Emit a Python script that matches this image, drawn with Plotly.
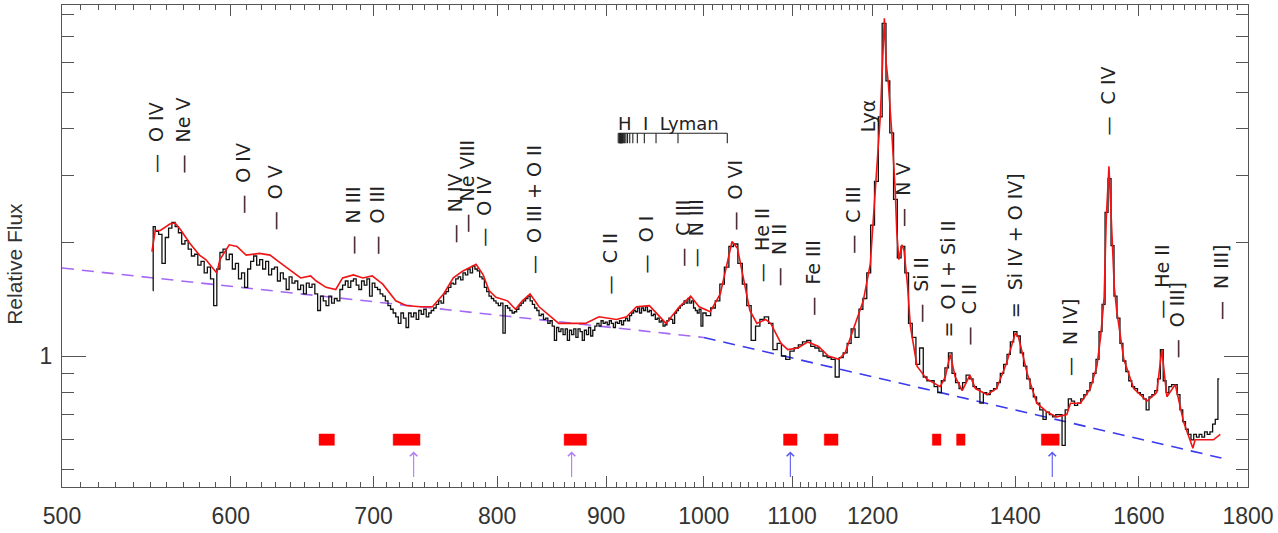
import numpy as np
import plotly.graph_objects as go

# ---------------- data ----------------
# Binned composite spectrum, 552-998 A (2 A bins)
wave_fuv = list(range(552, 1000, 2))
flux_fuv = [
    2.20, 2.14, 2.10, 1.76, 2.06, 2.18, 2.26, 2.20, 2.12, 1.98,
    2.02, 1.92, 1.84, 1.86, 1.74, 1.78, 1.66, 1.72, 1.60, 1.36,
    1.70, 1.88, 1.92, 1.80, 1.86, 1.70, 1.76, 1.60, 1.66, 1.52,
    1.70, 1.78, 1.84, 1.74, 1.80, 1.70, 1.78, 1.64, 1.70, 1.72,
    1.58, 1.66, 1.60, 1.50, 1.62, 1.56, 1.58, 1.50, 1.54, 1.46,
    1.56, 1.52, 1.55, 1.46, 1.32, 1.44, 1.40, 1.36, 1.44, 1.38,
    1.42, 1.40, 1.50, 1.54, 1.58, 1.52, 1.58, 1.60, 1.54, 1.50,
    1.58, 1.54, 1.60, 1.44, 1.56, 1.52, 1.50, 1.46, 1.44, 1.40,
    1.36, 1.33, 1.30, 1.27, 1.22, 1.30, 1.26, 1.19, 1.30, 1.27,
    1.30, 1.25, 1.32, 1.29, 1.33, 1.27, 1.30, 1.32, 1.34, 1.37,
    1.40, 1.38, 1.46, 1.48, 1.52, 1.56, 1.55, 1.60, 1.62, 1.59,
    1.66, 1.64, 1.70, 1.66, 1.73, 1.70, 1.68, 1.62, 1.60, 1.52,
    1.48, 1.44, 1.42, 1.40, 1.38, 1.36, 1.38, 1.15, 1.36, 1.34,
    1.32, 1.30, 1.31, 1.33, 1.36, 1.38, 1.40, 1.42, 1.44, 1.40,
    1.37, 1.34, 1.32, 1.28, 1.29, 1.25, 1.26, 1.22, 1.24, 1.20,
    1.10, 1.19, 1.16, 1.18, 1.14, 1.18, 1.10, 1.17, 1.14, 1.18,
    1.12, 1.18, 1.16, 1.10, 1.17, 1.14, 1.19, 1.13, 1.17, 1.20,
    1.22, 1.20, 1.24, 1.22, 1.23, 1.21, 1.24, 1.22, 1.19, 1.23,
    1.22, 1.24, 1.21, 1.24, 1.26, 1.24, 1.28, 1.30, 1.32, 1.31,
    1.34, 1.30, 1.34, 1.32, 1.35, 1.31, 1.32, 1.28, 1.29, 1.25,
    1.26, 1.23, 1.24, 1.20, 1.21, 1.24, 1.26, 1.25, 1.22, 1.30,
    1.32, 1.34, 1.36, 1.37, 1.40, 1.38, 1.42, 1.38, 1.40, 1.34,
    1.32, 1.30, 1.33, 1.20,
]
# blue edge of the first bin
edge_wave = [551.5]
edge_flux = [1.49]

# Binned composite spectrum, 1000-1745 A (5 A bins)
wave_nuv = list(range(1000, 1750, 5))
flux_nuv = [
    1.30, 1.28, 1.34, 1.40, 1.55, 1.72, 1.95, 1.98, 1.76, 1.55,
    1.36, 1.10, 1.20, 1.25, 1.27, 1.22, 1.04, 1.08, 1.00, 0.98,
    1.03, 1.05, 1.07, 1.09, 1.10, 1.06, 1.05, 1.03, 1.00, 0.99,
    0.98, 0.88, 0.99, 1.02, 1.08, 1.18, 1.12, 1.33, 1.42, 1.66,
    2.22, 2.90, 4.30, 7.60, 5.35, 3.90, 2.60, 1.82, 1.95, 1.66,
    1.22, 1.12, 0.95, 1.05, 0.88, 0.86, 0.86, 0.83, 0.80, 0.86,
    0.93, 1.02, 0.90, 0.85, 0.82, 0.85, 0.89, 0.87, 0.83, 0.82,
    0.75, 0.80, 0.79, 0.81, 0.82, 0.85, 0.90, 0.95, 1.01, 1.09,
    1.16, 1.13, 1.02, 0.94, 0.87, 0.82, 0.78, 0.75, 0.72, 0.68,
    0.71, 0.70, 0.69, 0.70, 0.70, 0.58, 0.72, 0.77, 0.76, 0.74,
    0.75, 0.77, 0.79, 0.81, 0.85, 0.90, 0.98, 1.16, 1.37, 2.40,
    2.95, 1.96, 1.44, 1.26, 1.08, 0.97, 0.91, 0.86, 0.83, 0.82,
    0.80, 0.79, 0.77, 0.72, 0.78, 0.79, 0.81, 0.87, 1.04, 0.86,
    0.80, 0.83, 0.84, 0.84, 0.79, 0.72, 0.67, 0.64, 0.62, 0.60,
    0.62, 0.61, 0.62, 0.61, 0.63, 0.62, 0.63, 0.66, 0.68, 0.87,
]

# Smooth emission-line model
model_wave = [
    551, 553, 556, 562, 565, 568, 574, 580, 584, 591, 593, 599, 604, 610,
    619, 626, 630, 641, 647, 654, 658, 665, 672, 677, 685, 692, 699, 707,
    717, 725, 736, 746, 755, 763, 771, 782, 788, 793, 799, 809, 816, 822,
    829, 837, 846, 855, 868, 880, 893, 910, 920, 930, 943, 960, 974, 986,
    995, 1007, 1018, 1025, 1031, 1037, 1044, 1051, 1059, 1069, 1075, 1087,
    1095, 1107, 1119, 1132, 1144, 1157, 1165, 1178, 1188, 1197, 1202, 1206,
    1210, 1212.4, 1215.4, 1217.6, 1220.7, 1225.2, 1229.6, 1231.8, 1234.5,
    1238.5, 1241.5, 1246, 1250, 1259, 1272, 1291, 1298, 1305, 1312, 1322,
    1333, 1341, 1358, 1372, 1387, 1400, 1405, 1418, 1433, 1449, 1464, 1480,
    1486, 1502, 1518, 1529, 1535, 1541, 1544.5, 1549, 1553, 1558, 1562,
    1574, 1591, 1614, 1631, 1640, 1649, 1664, 1679, 1691, 1696, 1700, 1710,
    1734, 1747,
]
model_flux = [
    1.89, 2.15, 2.15, 2.24, 2.25, 2.17, 1.99, 1.85, 1.80, 1.66, 1.80, 1.97, 1.95, 1.85,
    1.87, 1.85, 1.80, 1.68, 1.61, 1.63, 1.58, 1.52, 1.50, 1.61, 1.64, 1.61, 1.63, 1.55,
    1.40, 1.36, 1.35, 1.35, 1.46, 1.61, 1.68, 1.75, 1.64, 1.49, 1.43, 1.40, 1.33, 1.40,
    1.46, 1.35, 1.28, 1.22, 1.22, 1.22, 1.27, 1.25, 1.27, 1.35, 1.36, 1.22, 1.35, 1.44,
    1.35, 1.31, 1.46, 1.75, 2.01, 1.93, 1.61, 1.32, 1.22, 1.25, 1.22, 1.08,
    1.04, 1.05, 1.09, 1.06, 1.00, 0.98, 1.02, 1.22, 1.40, 1.75, 2.45, 3.10,
    4.30, 5.60, 7.84, 6.00, 5.25, 3.89, 2.77, 2.13, 1.80,
    1.97, 1.90, 1.55, 1.20, 0.94, 0.87, 0.83, 0.88, 1.01, 0.88, 0.81,
    0.89, 0.82, 0.79, 0.82, 0.96, 1.15, 1.12, 0.90, 0.75, 0.71, 0.69, 0.70,
    0.75, 0.75, 0.82, 0.94, 1.12, 1.43, 2.31, 3.18, 2.31, 1.52, 1.32,
    0.98, 0.82, 0.76, 0.80, 1.04, 0.78, 0.84, 0.67, 0.60, 0.57, 0.60, 0.60,
    0.60, 0.62,
]

# Broken power-law continuum (break at 1000 A)
cont_wave_short = [500, 1000]
cont_flux_short = [1.71, 1.12]
cont_wave_long = [1000, 1749]
cont_flux_long = [1.12, 0.537]

# Continuum windows
win_start = [660, 715, 860, 1090, 1139, 1280, 1314, 1440]
win_end = [671, 736, 881, 1106, 1156, 1292, 1326, 1468]
win_level = 0.60

# Arrow markers
arrow_wave_short = [731, 867]
arrow_wave_long = [1098, 1457]
arrow_tip = 0.559

# H I Lyman series (Ly-beta onwards) and series limit
lyman_wave = [1025.72, 972.54, 949.74, 937.80, 930.75, 926.23, 923.15,
              920.96, 919.35, 918.13, 917.18, 916.43, 915.82, 915.33,
              914.92, 914.58, 914.29, 914.04, 913.64, 913.21, 912.77, 911.75]
lyman_top = 3.89
lyman_bottom = 3.66

# Emission-line identifications
label_text = ["O IV", "Ne V", "O IV", "O V", "N III", "O III", "N IV", "Ne VIII",
              "O IV", "O III + O II", "C II", "O I", "C III", "N III", "O VI",
              "He II", "N II", "Fe III", "C III", "N V", "Si II", "O I + Si II",
              "C II", "Si IV + O IV]", "N IV]", "C IV", "He II", "O III]", "N III]"]
label_mark = ["—"] * 21 + ["="] + ["—"] + ["="] + ["—"] * 5
label_wave = [553, 570, 608, 629, 685, 702, 764, 774, 788, 833, 904, 939, 977,
              992, 1034, 1065, 1085, 1125, 1175, 1241, 1265, 1302, 1333, 1400,
              1486, 1548, 1641, 1667, 1747]
label_base = [3.03, 3.03, 2.36, 2.14, 1.85, 1.84, 1.97, 2.11, 1.93, 1.64, 1.45,
              1.64, 1.71, 1.71, 2.14, 1.56, 1.52, 1.27, 1.85, 2.18, 1.22, 1.11,
              1.06, 1.25, 0.88, 3.81, 1.25, 0.98, 1.24]
lya_wave, lya_base = 1194, 3.90

x_major = [500, 600, 700, 800, 900, 1000, 1100, 1200, 1400, 1600, 1800]
y_minor = [0.5, 0.6, 0.7, 0.8, 0.9, 2, 3, 4, 5, 6, 7, 8]

# ---------------- figure ----------------
FRAME = "#555555"
INK = "#222222"
LABEL_FONT = dict(family="DejaVu Sans", size=19, color=INK)

fig = go.Figure()

# continuum
fig.add_trace(go.Scatter(x=cont_wave_short, y=cont_flux_short, mode="lines",
                         line=dict(color="#a468f4", width=1.6, dash="12px,8px"),
                         hoverinfo="skip"))
fig.add_trace(go.Scatter(x=cont_wave_long, y=cont_flux_long, mode="lines",
                         line=dict(color="#3a3aee", width=1.6, dash="12px,8px"),
                         hoverinfo="skip"))

# binned spectrum
fig.add_trace(go.Scatter(x=edge_wave + wave_fuv + wave_nuv,
                         y=edge_flux + flux_fuv + flux_nuv, mode="lines",
                         line=dict(color="#111111", width=1.3, shape="hvh")))

# model
fig.add_trace(go.Scatter(x=model_wave, y=model_flux, mode="lines",
                         line=dict(color="#f01414", width=1.6)))

# continuum windows as filled boxes
bx, by = [], []
lo, hi = win_level * 0.967, win_level * 1.036
for a, b in zip(win_start, win_end):
    bx += [a, b, b, a, a, None]
    by += [lo, lo, hi, hi, lo, None]
fig.add_trace(go.Scatter(x=bx, y=by, mode="lines", fill="toself",
                         fillcolor="#ff0000", line=dict(color="#ff0000", width=0.5)))

# Lyman series bracket
lx, ly = [min(lyman_wave), max(lyman_wave), None], [lyman_top, lyman_top, None]
for w in lyman_wave:
    lx += [w, w, None]
    ly += [lyman_top, lyman_bottom, None]
fig.add_trace(go.Scatter(x=lx, y=ly, mode="lines",
                         line=dict(color="#222222", width=1.1)))

annotations = []
for mark, txt, w, f in zip(label_mark, label_text, label_wave, label_base):
    annotations.append(dict(
        x=np.log10(w), y=np.log10(f), xref="x", yref="y",
        text=f"{mark}\u00a0\u00a0{txt}", textangle=-90, showarrow=False,
        xanchor="center", yanchor="bottom", font=LABEL_FONT, borderpad=0))
annotations.append(dict(
    x=np.log10(lya_wave), y=np.log10(lya_base), xref="x", yref="y",
    text="Lyα", textangle=-90, showarrow=False, xanchor="center",
    yanchor="bottom", font=LABEL_FONT, borderpad=0))
annotations.append(dict(
    x=np.log10(min(lyman_wave)), y=np.log10(lyman_top), xref="x", yref="y",
    text="H\u00a0\u00a0I\u00a0\u00a0Lyman", showarrow=False, xanchor="left",
    yanchor="bottom", font=dict(family="DejaVu Sans", size=18, color=INK),
    borderpad=0, xshift=-1, yshift=-2))

for waves, col in ((arrow_wave_short, "#b27af4"), (arrow_wave_long, "#5b5bf0")):
    for w in waves:
        annotations.append(dict(
            x=np.log10(w), y=np.log10(arrow_tip), xref="x", yref="y",
            text="", showarrow=True, ax=0, ay=27, arrowhead=4,
            arrowsize=1.3, arrowwidth=1.1, arrowcolor=col))

annotations.append(dict(
    x=-0.0407, y=0.4625, xref="paper", yref="paper", text="Relative Flux",
    textangle=-90, showarrow=False, xanchor="center", yanchor="middle",
    font=dict(family="Liberation Sans, Arial, sans-serif", size=21, color="#333333")))

x_minor = [v for v in range(510, 1200, 10) if v % 100 != 0] + \
          [v for v in range(1220, 1800, 20) if v not in (1400, 1600)]

fig.update_layout(
    width=1278, height=533,
    margin=dict(l=62, r=30, t=4, b=41),
    paper_bgcolor="white", plot_bgcolor="white",
    showlegend=False,
    annotations=annotations,
    xaxis=dict(
        type="log", range=[np.log10(500), np.log10(1800)],
        tickmode="array", tickvals=x_major, ticktext=[str(v) for v in x_major],
        ticks="inside", ticklen=11, tickwidth=1.2, tickcolor=FRAME,
        showline=True, linecolor=FRAME, linewidth=1.4, mirror="ticks",
        showgrid=False, zeroline=False,
        minor=dict(tickmode="array", tickvals=x_minor, ticks="inside",
                   ticklen=5, tickwidth=1, tickcolor=FRAME, showgrid=False),
        tickfont=dict(family="Liberation Sans, Arial, sans-serif", size=23,
                      color="#333333"),
        ticklabelstandoff=8,
    ),
    yaxis=dict(
        type="log", range=[np.log10(0.45), np.log10(8.5)],
        tickmode="array", tickvals=[1], ticktext=["1"],
        ticks="inside", ticklen=24, tickwidth=1.2, tickcolor=FRAME,
        showline=True, linecolor=FRAME, linewidth=1.4, mirror="ticks",
        showgrid=False, zeroline=False,
        minor=dict(tickmode="array", tickvals=y_minor, ticks="inside",
                   ticklen=12, tickwidth=1, tickcolor=FRAME, showgrid=False),
        tickfont=dict(family="Liberation Sans, Arial, sans-serif", size=23,
                      color="#333333"),
        ticklabelstandoff=4,
    ),
)

fig.write_html("out.html")
